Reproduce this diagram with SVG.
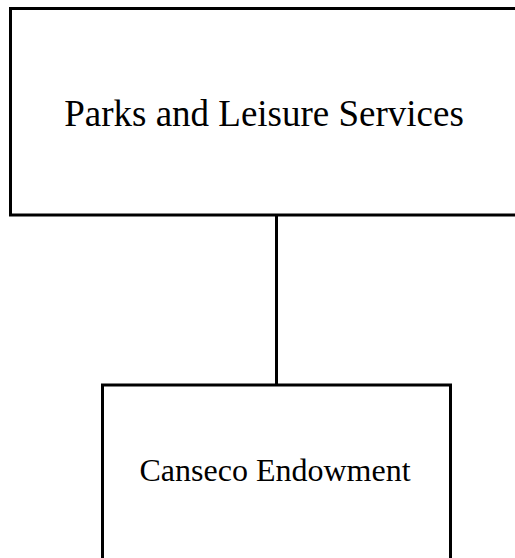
<svg xmlns="http://www.w3.org/2000/svg" width="515" height="558" viewBox="0 0 515 558">
<style>
.box{fill:#fff;stroke:#000;stroke-width:3}
.lbl{font-family:"Liberation Serif",serif;fill:#000;text-anchor:middle}
.conn{stroke:#000;stroke-width:3;fill:none}
</style>
<rect width="515" height="558" fill="#fff"/>
<g id="connectors">
<line class="conn" x1="276.5" y1="215" x2="276.5" y2="385"/>
</g>
<g id="node-parks">
<rect class="box" x="10.5" y="8.5" width="530" height="206.5"/>
<text class="lbl" x="264" y="126" font-size="37">Parks and Leisure Services</text>
</g>
<g id="node-canseco">
<rect class="box" x="102.5" y="385" width="348" height="200"/>
<text class="lbl" x="275" y="481" font-size="32">Canseco Endowment</text>
</g>
</svg>
